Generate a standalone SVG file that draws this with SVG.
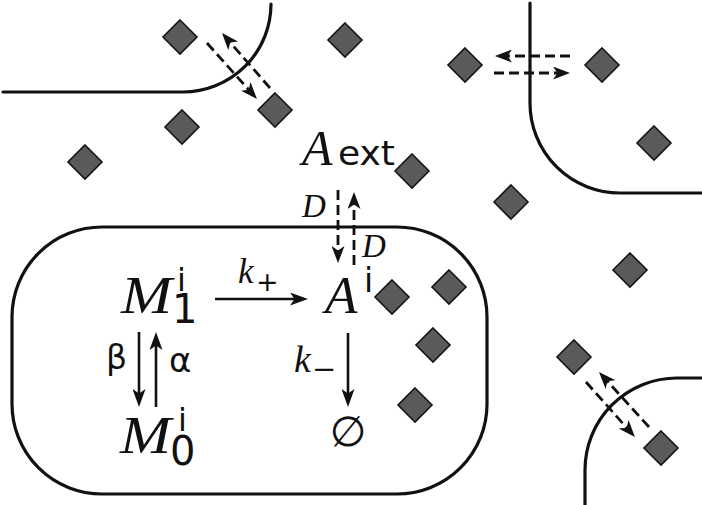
<svg xmlns="http://www.w3.org/2000/svg" width="702" height="505" viewBox="0 0 702 505">
  <style>
    .wall { fill: none; stroke: #111; stroke-width: 3.2; stroke-linecap: round; }
    .mol { fill: #5a5a5a; stroke: #151515; stroke-width: 1.6; stroke-linejoin: miter; }
    .solid { fill: none; stroke: #111; stroke-width: 2.6; }
    .dash { fill: none; stroke: #111; stroke-width: 2.8; stroke-dasharray: 10 5; }
    .mi { font-family: "Liberation Serif", "DejaVu Serif", serif; font-style: italic; fill: #111; }
    .sf { font-family: "DejaVu Sans", "Liberation Sans", sans-serif; fill: #111; }
  </style>
  <defs>
    <path id="dia" d="M0,-17 L17,0 L0,17 L-17,0 Z"/>
    <marker id="head" markerUnits="userSpaceOnUse" viewBox="0 0 18 13" markerWidth="18" markerHeight="13" refX="11" refY="6.5" orient="auto">
      <path d="M0,0 L18,6.5 L0,13 L4.5,6.5 Z" fill="#111"/>
    </marker>
    <marker id="dhead" markerUnits="userSpaceOnUse" viewBox="0 0 17 13" markerWidth="17" markerHeight="13" refX="10" refY="6.5" orient="auto">
      <path d="M0,0 L17,6.5 L0,13 L4.5,6.5 Z" fill="#111"/>
    </marker>
  </defs>

  <!-- cell membranes -->
  <g id="cells">
    <path class="wall" d="M3,92 H183 A88,88 0 0 0 271,4"/>
    <path class="wall" d="M530,3 V103 A90,90 0 0 0 620,193 H702"/>
    <path class="wall" d="M585,505 V470 A92,92 0 0 1 677,378 H702"/>
    <rect id="cell-main" class="wall" x="12" y="227" width="475" height="267" rx="90" ry="90"/>
  </g>

  <!-- signalling molecules -->
  <g id="molecules">
    <use href="#dia" class="mol" x="180" y="37"/>
    <use href="#dia" class="mol" x="275" y="110"/>
    <use href="#dia" class="mol" x="182" y="127"/>
    <use href="#dia" class="mol" x="85" y="162"/>
    <use href="#dia" class="mol" x="345" y="40"/>
    <use href="#dia" class="mol" x="465" y="65"/>
    <use href="#dia" class="mol" x="602" y="65"/>
    <use href="#dia" class="mol" x="654" y="143"/>
    <use href="#dia" class="mol" x="511" y="202"/>
    <use href="#dia" class="mol" x="412" y="171"/>
    <use href="#dia" class="mol" x="630" y="270"/>
    <use href="#dia" class="mol" x="392" y="297"/>
    <use href="#dia" class="mol" x="449" y="287"/>
    <use href="#dia" class="mol" x="433" y="345"/>
    <use href="#dia" class="mol" x="415" y="405"/>
    <use href="#dia" class="mol" x="574" y="357"/>
    <use href="#dia" class="mol" x="661" y="448"/>
  </g>

  <!-- reactions and diffusion -->
  <g id="connectors">
    <line class="solid" x1="215" y1="299" x2="301" y2="299" marker-end="url(#head)"/>
    <line class="solid" x1="348" y1="333" x2="348" y2="400" marker-end="url(#head)"/>
    <line class="solid" x1="139" y1="332" x2="139" y2="400" marker-end="url(#head)"/>
    <line class="solid" x1="156" y1="407" x2="156" y2="339" marker-end="url(#head)"/>

    <line class="dash" x1="338" y1="190" x2="338" y2="256" marker-end="url(#dhead)"/>
    <line class="dash" x1="354" y1="265" x2="354" y2="199" marker-end="url(#dhead)"/>

    <line class="dash" x1="570" y1="56" x2="502" y2="56" marker-end="url(#dhead)"/>
    <line class="dash" x1="494" y1="73" x2="563" y2="73" marker-end="url(#dhead)"/>

    <line class="dash" x1="207" y1="43" x2="252.3" y2="93.8" marker-end="url(#dhead)"/>
    <line class="dash" x1="270" y1="88" x2="226.6" y2="38.3" marker-end="url(#dhead)"/>

    <line class="dash" x1="586" y1="382" x2="630.3" y2="431.8" marker-end="url(#dhead)"/>
    <line class="dash" x1="649" y1="427" x2="603.7" y2="377.2" marker-end="url(#dhead)"/>
  </g>

  <!-- species labels -->
  <g id="node-M1">
    <text class="mi" x="121" y="313" font-size="53" textLength="51" lengthAdjust="spacingAndGlyphs">M</text>
    <text class="sf" x="172" y="323" font-size="40">1</text>
    <text class="sf" x="177" y="291" font-size="32">i</text>
  </g>
  <g id="node-M0">
    <text class="mi" x="120" y="453" font-size="53" textLength="51" lengthAdjust="spacingAndGlyphs">M</text>
    <text class="sf" x="170" y="465" font-size="40">0</text>
    <text class="sf" x="178" y="431" font-size="32">i</text>
  </g>
  <g id="node-A">
    <text class="mi" x="325" y="313" font-size="53">A</text>
    <text class="sf" x="364" y="292" font-size="33">i</text>
  </g>
  <g id="node-Aext">
    <text class="mi" x="302" y="165" font-size="50">A</text>
    <text class="sf" x="338" y="165" font-size="33" textLength="57" lengthAdjust="spacingAndGlyphs">ext</text>
  </g>
  <g id="node-null">
    <text class="sf" x="348" y="446" font-size="42" text-anchor="middle">∅</text>
  </g>

  <!-- rate labels -->
  <g id="rates">
    <text class="mi" x="238" y="283" font-size="35">k</text>
    <text class="sf" x="256" y="291" font-size="27">+</text>
    <text class="mi" x="294" y="372" font-size="38">k</text>
    <text class="sf" x="312" y="379" font-size="29">−</text>
    <text class="sf" x="106" y="369" font-size="33">β</text>
    <text class="sf" x="169" y="372" font-size="34">α</text>
    <text class="mi" x="302" y="217" font-size="33">D</text>
    <text class="mi" x="362" y="257" font-size="33">D</text>
  </g>
</svg>
